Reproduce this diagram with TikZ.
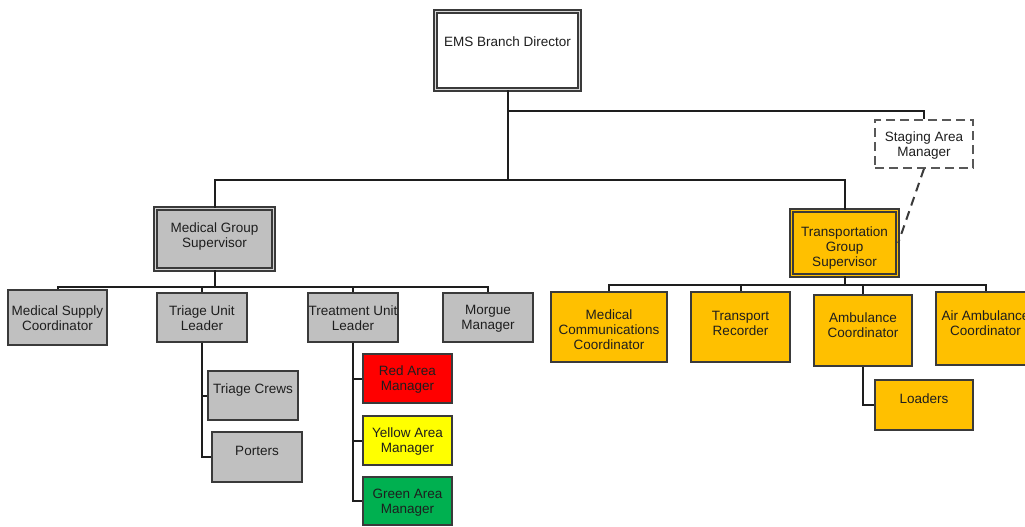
\documentclass[tikz,border=0pt]{standalone}
\usepackage{fontspec}
\setmainfont{Liberation Sans}
\usetikzlibrary{calc}
\definecolor{boxgray}{HTML}{C0C0C0}
\definecolor{amber}{HTML}{FFC000}
\definecolor{redarea}{HTML}{FF0000}
\definecolor{yellowarea}{HTML}{FFFF00}
\definecolor{greenarea}{HTML}{00B050}
\definecolor{ink}{HTML}{1E1E1E}
\definecolor{frame}{HTML}{3A3A3A}
\begin{document}
\begin{tikzpicture}[x=1pt,y=-1pt,
  box/.style={draw=frame,line width=1.5pt,inner sep=0pt,rectangle},
  gbox/.style={box,fill=boxgray},
  obox/.style={box,fill=amber},
  dblbox/.style={draw=frame,line width=1.4pt,double distance=1.6pt,inner sep=0pt,rectangle},
  dashbox/.style={draw=frame!85,line width=1.4pt,dash pattern=on 9pt off 5pt,fill=white,inner sep=0pt,rectangle},
  txt/.style={font=\fontsize{13.5}{15}\selectfont,align=center,text=ink,inner sep=0pt},
  link/.style={draw=ink,line width=2pt},
  dlink/.style={draw=frame,line width=2pt,dash pattern=on 9pt off 6pt}
]
\useasboundingbox (0,0) rectangle (1025,527);

% top level
\node[dblbox,double=boxgray!60!white,fill=white,minimum width=144,minimum height=78] (ems) at (507.5,50.5) {};
\node[txt] (emsT) at (507.5,42) {EMS Branch Director};

\node[dashbox,minimum width=98,minimum height=48] (staging) at (924,144) {};
\node[txt] (stagingT) at (924,146) {Staging Area\\Manager};

% group supervisors
\node[dblbox,double=boxgray!70!white,fill=boxgray,minimum width=118,minimum height=61] (mgs) at (214.5,239) {};
\node[txt] (mgsT) at (214.5,236.5) {Medical Group\\Supervisor};

\node[dblbox,double=amber,fill=amber,minimum width=106,minimum height=65] (tgs) at (844.5,243) {};
\node[txt] (tgsT) at (844.5,248) {Transportation\\Group\\Supervisor};

% medical group units
\node[gbox,minimum width=99,minimum height=55] (msc) at (57.5,317.5) {};
\node[txt] (mscT) at (57.5,318) {Medical Supply\\Coordinator};
\node[gbox,minimum width=90,minimum height=49] (triage) at (202,317.5) {};
\node[txt] (triageT) at (202,318.5) {Triage Unit\\Leader};
\node[gbox,minimum width=90,minimum height=49] (treat) at (353,317.5) {};
\node[txt] (treatT) at (353,318.5) {Treatment Unit\\Leader};
\node[gbox,minimum width=90,minimum height=49] (morgue) at (488,317.5) {};
\node[txt] (morgueT) at (488,318.5) {Morgue\\Manager};

\node[gbox,minimum width=90,minimum height=49] (crews) at (253,395.5) {};
\node[txt] (crewsT) at (253,390) {Triage Crews};
\node[gbox,minimum width=90,minimum height=50] (porters) at (257,457) {};
\node[txt] (portersT) at (257,451) {Porters};

\node[box,fill=redarea,minimum width=89,minimum height=49] (red) at (407.5,378.5) {};
\node[txt] (redT) at (407.5,380) {Red Area\\Manager};
\node[box,fill=yellowarea,minimum width=89,minimum height=49] (yellow) at (407.5,440.5) {};
\node[txt] (yellowT) at (407.5,442) {Yellow Area\\Manager};
\node[box,fill=greenarea,minimum width=89,minimum height=48] (green) at (407.5,501) {};
\node[txt] (greenT) at (407.5,503) {Green Area\\Manager};

% transportation group units
\node[obox,minimum width=116,minimum height=70] (medcomm) at (609,327) {};
\node[txt] (medcommT) at (609,330) {Medical\\Communications\\Coordinator};
\node[obox,minimum width=99,minimum height=70] (recorder) at (740.5,327) {};
\node[txt] (recorderT) at (740.5,323.5) {Transport\\Recorder};
\node[obox,minimum width=98,minimum height=71] (amb) at (863,330.5) {};
\node[txt] (ambT) at (863,325.5) {Ambulance\\Coordinator};
\node[obox,minimum width=99,minimum height=73] (air) at (985.5,328.5) {};
\node[txt] (airT) at (985.5,323.5) {Air Ambulance\\Coordinator};
\node[obox,minimum width=98,minimum height=50] (loaders) at (924,405) {};
\node[txt] (loadersT) at (924,399) {Loaders};

% junction points of the buses
\coordinate (topbus) at (507.5,180);
\coordinate (mbus) at (214.5,287);
\coordinate (tbus) at (844.5,285);

% connectors
\draw[link] (ems.south) -- (topbus);
\draw[link] (ems.south) -- ++(0,21) -| (staging.north);
\draw[link] (mgs.north) |- (topbus) -| (tgs.north);
\draw[dlink] (staging.south) -- (tgs.east);

\draw[link] (mgs.south) -- (mbus);
\draw[link] (msc.north) |- (mbus) -| (morgue.north);
\draw[link] (triage.north) -- (triage.north |- mbus);
\draw[link] (treat.north) -- (treat.north |- mbus);
\draw[link] (triage.south) |- (crews.west);
\draw[link] (triage.south) |- (porters.west);
\draw[link] (treat.south) |- (red.west);
\draw[link] (treat.south) |- (yellow.west);
\draw[link] (treat.south) |- (green.west);

\draw[link] (tgs.south) -- (tbus);
\draw[link] (medcomm.north) |- (tbus) -| (air.north);
\draw[link] (recorder.north) -- (recorder.north |- tbus);
\draw[link] (amb.north) -- (amb.north |- tbus);
\draw[link] (amb.south) |- (loaders.west);
\end{tikzpicture}
\end{document}
